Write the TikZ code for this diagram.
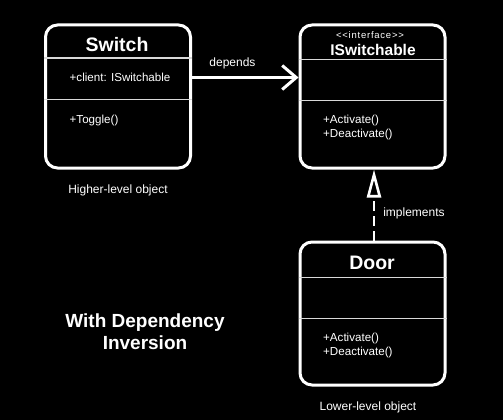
\documentclass[tikz,border=0pt]{standalone}
\usepackage{fontspec}
\setmainfont{Liberation Sans}
\newfontfamily\stereofont{Liberation Sans}[Ligatures=TeXOff, LetterSpace=8]
\usetikzlibrary{arrows.meta}
\begin{document}
\begin{tikzpicture}[x=1pt,y=-1pt,
  umlbox/.style={draw=white, line width=3pt, rounded corners=12pt, minimum width=145pt, minimum height=143pt, inner sep=0pt},
  divider/.style={draw=white!85!black, line width=1.8pt},
  title/.style={text=white, font=\bfseries\fontsize{19.5}{22}\selectfont, inner sep=0pt},
  member/.style={text=white, font=\fontsize{11.6}{14}\selectfont, inner sep=0pt, anchor=west, align=left},
  caption/.style={text=white, font=\fontsize{12}{14}\selectfont, inner sep=0pt},
  conn/.style={draw=white, line width=3pt},
]
\fill[black] (0,0) rectangle (503,420);
\useasboundingbox (0,0) rectangle (503,420);

% Switch
\node[umlbox] (sw) at (118,96.5) {};
\draw[divider] ([yshift=-34.5pt]sw.north west) -- ([yshift=-34.5pt]sw.north east);
\draw[divider] ([yshift=-76pt]sw.north west) -- ([yshift=-76pt]sw.north east);
\node[title] (swt) at (117,45) {Switch};
\node[member] (swa) at (69.5,77) {+client: ISwitchable};
\node[member] (swm) at (69.5,121) {+Toggle()};
\node[caption] (swc) at (118,190) {Higher-level object};

% ISwitchable
\node[umlbox] (isw) at (372.5,96.5) {};
\draw[divider] ([yshift=-36pt]isw.north west) -- ([yshift=-36pt]isw.north east);
\draw[divider] ([yshift=-77pt]isw.north west) -- ([yshift=-77pt]isw.north east);
\node[caption, font=\stereofont\fontsize{9.5}{11}\selectfont] (iswst) at (370,35) {<<interface>>};
\node[title, font=\bfseries\fontsize{15.5}{18}\selectfont] (iswt) at (373,50) {ISwitchable};
\node[member] (iswm) at (323,127) {+Activate()\\+Deactivate()};

% Door
\node[umlbox] (door) at (372.5,313.5) {};
\draw[divider] ([yshift=-37pt]door.north west) -- ([yshift=-37pt]door.north east);
\draw[divider] ([yshift=-78pt]door.north west) -- ([yshift=-78pt]door.north east);
\node[title] (doort) at (372,263) {Door};
\node[member] (doorm) at (323,345) {+Activate()\\+Deactivate()};
\node[caption] (doorc) at (368,407) {Lower-level object};

% connectors
\draw[conn, -{Straight Barb[length=14pt,width=24pt]}] ([yshift=19pt]sw.east) -- ([yshift=19pt]isw.west)
  node[pos=0.38, above=7pt, caption] (dep) {depends};
\draw[conn, line width=2.6pt, dash pattern=on 10pt off 5pt, -{Triangle[open,length=28pt,width=14pt]}]
  ([xshift=1.5pt]door.north) -- ([xshift=1.5pt]isw.south)
  node[pos=0.38, right=8pt, caption] (impl) {implements};

% title
\node[text=white, font=\bfseries\fontsize{19}{22}\selectfont, align=center, inner sep=0pt] (head) at (145,332) {With Dependency\\Inversion};
\end{tikzpicture}
\end{document}
